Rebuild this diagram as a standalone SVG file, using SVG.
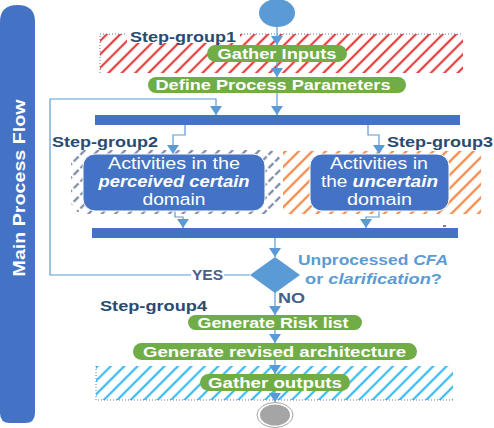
<svg xmlns="http://www.w3.org/2000/svg" width="494" height="428" viewBox="0 0 494 428">
<defs>
<style>
.lbl{font-family:"Liberation Sans",Arial,sans-serif;font-weight:bold;font-size:15px;fill:#284B70}
.pill{fill:#70AD47}
.ptxt{font-family:"Liberation Sans",Arial,sans-serif;font-weight:bold;font-size:14px;fill:#fff;text-anchor:middle}
.box{fill:#4472C4;stroke:#fff;stroke-width:1}
.btxt{font-family:"Liberation Sans",Arial,sans-serif;font-size:16px;fill:#fff;text-anchor:middle}
.bar{fill:#4472C4}
.conn{fill:none;stroke:#5B9BD5;stroke-width:1.2}
.yn{font-family:"Liberation Sans",Arial,sans-serif;font-weight:bold;font-size:14px;fill:#44608A}
.q{font-family:"Liberation Sans",Arial,sans-serif;font-weight:bold;font-size:15px;fill:#5B9BD5}
.dot{fill:none;stroke:#6B7C99;stroke-width:1;stroke-dasharray:1 2}
</style>
<pattern id="hRed" patternUnits="userSpaceOnUse" width="9.5" height="9.5" patternTransform="rotate(45)">
<line x1="4.75" y1="0" x2="4.75" y2="9.5" stroke="#F7C4C4" stroke-width="3"/>
<line x1="4.75" y1="0" x2="4.75" y2="9.5" stroke="#E00000" stroke-width="1.3"/>
</pattern>
<pattern id="hOrg" patternUnits="userSpaceOnUse" width="9.5" height="9.5" patternTransform="rotate(45)">
<line x1="4.75" y1="0" x2="4.75" y2="9.5" stroke="#F9D2B6" stroke-width="3"/>
<line x1="4.75" y1="0" x2="4.75" y2="9.5" stroke="#F26B1D" stroke-width="1.3"/>
</pattern>
<pattern id="hGry" patternUnits="userSpaceOnUse" width="9.5" height="9.5" patternTransform="rotate(45)">
<line x1="4.75" y1="0" x2="4.75" y2="9.5" stroke="#D3D8E2" stroke-width="3" stroke-dasharray="5 2.5"/>
<line x1="4.75" y1="0" x2="4.75" y2="9.5" stroke="#56688C" stroke-width="1.3" stroke-dasharray="5 2.5"/>
</pattern>
<pattern id="hBlu" patternUnits="userSpaceOnUse" width="9.5" height="9.5" patternTransform="rotate(45)">
<line x1="4.75" y1="0" x2="4.75" y2="9.5" stroke="#BDE9FB" stroke-width="3"/>
<line x1="4.75" y1="0" x2="4.75" y2="9.5" stroke="#00A8F0" stroke-width="1.3"/>
</pattern>
<marker id="arr" markerUnits="userSpaceOnUse" markerWidth="10" markerHeight="12" refX="9" refY="6" orient="auto">
<path d="M0,0 L9,6 L0,12 Z" fill="#5B9BD5"/>
</marker>
</defs>

<g id="main-flow-bar">
<path d="M0,22 Q0,5 17.5,5 Q35,5 35,22 V413 Q35,423 25,423 H10 Q0,423 0,413 Z" fill="#4472C4"/>
<text transform="translate(25,188) rotate(-90)" text-anchor="middle" font-family="Liberation Sans, Arial, sans-serif" font-weight="bold" font-size="16" fill="#fff" textLength="177" lengthAdjust="spacingAndGlyphs">Main Process Flow</text>
</g>

<g id="step-group1">
<rect x="100" y="34" width="363" height="39" fill="url(#hRed)"/>
<path d="M100,73 V34 H463" class="dot"/>
<rect x="127" y="29" width="113" height="14" fill="#fff"/>
<text x="130" y="42" class="lbl" textLength="106" lengthAdjust="spacingAndGlyphs">Step-group1</text>
</g>

<g id="step-group2-area">
<rect x="71" y="150" width="210" height="64" rx="14" fill="url(#hGry)"/>
<text x="52" y="147" class="lbl" textLength="106" lengthAdjust="spacingAndGlyphs">Step-group2</text>
</g>

<g id="step-group3-area">
<rect x="283" y="151" width="198" height="63" fill="url(#hOrg)"/>
<text x="387" y="147" class="lbl" textLength="106" lengthAdjust="spacingAndGlyphs">Step-group3</text>
</g>

<g id="step-group4">
<rect x="96" y="366" width="357" height="34" fill="url(#hBlu)"/>
<path d="M96,366 V400 H453" class="dot" stroke="#3F5E8F"/>
<text x="100" y="311" class="lbl" textLength="107" lengthAdjust="spacingAndGlyphs">Step-group4</text>
</g>

<g id="connectors">
<path class="conn" d="M277,27 V45" marker-end="url(#arr)"/>
<path class="conn" d="M277,62 V77" marker-end="url(#arr)"/>
<path class="conn" d="M277,93 V115" marker-end="url(#arr)"/>
<path class="conn" d="M250,275 H224 M191,275 H50 V99 H216 V115" marker-end="url(#arr)"/>
<path class="conn" d="M185,125 V135 H173 V154" marker-end="url(#arr)"/>
<path class="conn" d="M368,125 V135 H379 V154" marker-end="url(#arr)"/>
<path class="conn" d="M175,211 V217 H183 V228" marker-end="url(#arr)"/>
<path class="conn" d="M379,211 V217 H366 V228" marker-end="url(#arr)"/>
<path class="conn" d="M275,238 V257" marker-end="url(#arr)"/>
<path class="conn" d="M275,292 V315" marker-end="url(#arr)"/>
<path class="conn" d="M275,330 V343" marker-end="url(#arr)"/>
<path class="conn" d="M275,360 V374" marker-end="url(#arr)"/>
<path class="conn" d="M275,391 V402" marker-end="url(#arr)"/>
<text x="192" y="280" class="yn" textLength="31" lengthAdjust="spacingAndGlyphs">YES</text>
<text x="278" y="303" class="yn" textLength="27" lengthAdjust="spacingAndGlyphs">NO</text>
<path d="M443,226 H446" stroke="#000" stroke-width="1"/>
</g>

<g id="start">
<ellipse cx="277" cy="13" rx="18" ry="14" fill="#5B9BD5"/>
</g>

<g id="gather-inputs">
<rect x="207" y="45" width="140" height="17" rx="8.5" class="pill"/>
<text x="277" y="58.5" class="ptxt" textLength="119" lengthAdjust="spacingAndGlyphs">Gather Inputs</text>
</g>

<g id="define-params">
<rect x="148" y="77" width="258" height="16" rx="8" class="pill"/>
<text x="273" y="90" class="ptxt" textLength="235" lengthAdjust="spacingAndGlyphs">Define Process Parameters</text>
</g>

<g id="bar-split">
<rect x="95" y="115" width="365" height="10" class="bar"/>
</g>

<g id="certain-activities">
<rect x="83" y="154" width="182" height="57" rx="12" class="box"/>
<text x="174" y="169" class="btxt" textLength="132" lengthAdjust="spacingAndGlyphs">Activities in the</text>
<text x="174" y="187" class="btxt" font-weight="bold" font-style="italic" textLength="151" lengthAdjust="spacingAndGlyphs">perceived certain</text>
<text x="174" y="205" class="btxt" textLength="63" lengthAdjust="spacingAndGlyphs">domain</text>
</g>

<g id="uncertain-activities">
<rect x="310" y="154" width="139" height="57" rx="12" class="box"/>
<text x="379" y="169" class="btxt" textLength="98" lengthAdjust="spacingAndGlyphs">Activities in</text>
<text x="379.5" y="187" class="btxt" textLength="117" lengthAdjust="spacingAndGlyphs">the <tspan font-weight="bold" font-style="italic">uncertain</tspan></text>
<text x="379.5" y="205" class="btxt" textLength="65" lengthAdjust="spacingAndGlyphs">domain</text>
</g>

<g id="bar-join">
<rect x="92" y="228" width="366" height="10" class="bar"/>
</g>

<g id="decision">
<path d="M275,257 L300,275 L275,293 L250,275 Z" fill="#5B9BD5"/>
<text x="298" y="265" class="q" textLength="150" lengthAdjust="spacingAndGlyphs">Unprocessed <tspan font-style="italic">CFA</tspan></text>
<text x="305" y="284" class="q" textLength="137" lengthAdjust="spacingAndGlyphs">or <tspan font-style="italic">clarification</tspan>?</text>
</g>

<g id="risk-list">
<rect x="188" y="315" width="174" height="15" rx="7.5" class="pill"/>
<text x="273" y="327.5" class="ptxt" textLength="151" lengthAdjust="spacingAndGlyphs">Generate Risk list</text>
</g>

<g id="revised-arch">
<rect x="133" y="343" width="284" height="17" rx="8.5" class="pill"/>
<text x="274.5" y="356.5" class="ptxt" textLength="263" lengthAdjust="spacingAndGlyphs">Generate revised architecture</text>
</g>

<g id="gather-outputs">
<rect x="200" y="374" width="150" height="17" rx="8.5" class="pill"/>
<text x="275" y="387.5" class="ptxt" textLength="134" lengthAdjust="spacingAndGlyphs">Gather outputs</text>
</g>

<g id="end">
<ellipse cx="275" cy="415" rx="18" ry="12.5" fill="#fff" stroke="#A5A5A5" stroke-width="1"/>
<ellipse cx="275" cy="415" rx="15" ry="10.5" fill="#A5A5A5"/>
</g>
</svg>
